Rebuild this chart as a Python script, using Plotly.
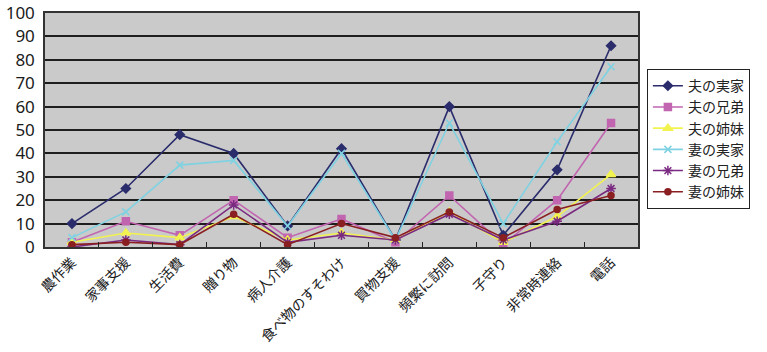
import plotly.graph_objects as go

categories = ["農作業", "家事支援", "生活費", "贈り物", "病人介護", "食べ物のすそわけ",
              "買物支援", "頻繁に訪問", "子守り", "非常時連絡", "電話"]

husband_parents = [10, 25, 48, 40, 9, 42, 3, 60, 5, 33, 86]
husband_brothers = [2, 11, 5, 20, 4, 12, 2, 22, 1, 20, 53]
husband_sisters = [2, 6, 4, 13, 3, 6, 3, 15, 2, 13, 31]
wife_parents = [4, 15, 35, 37, 9, 40, 3, 53, 10, 45, 77]
wife_brothers = [0, 3, 1, 18, 2, 5, 3, 14, 3, 11, 25]
wife_sisters = [1, 2, 1, 14, 1, 10, 4, 15, 4, 16, 22]

y_ticks = list(range(0, 101, 10))

series = [
    ("夫の実家", husband_parents, "#2a2c6c", "diamond", 7),
    ("夫の兄弟", husband_brothers, "#c265b0", "square", 7),
    ("夫の姉妹", husband_sisters, "#f2f250", "triangle-up", 8),
    ("妻の実家", wife_parents, "#7fd2e2", "x-thin-open", 7),
    ("妻の兄弟", wife_brothers, "#7a2a80", "asterisk-open", 8),
    ("妻の姉妹", wife_sisters, "#8a1f22", "circle", 6),
]

fig = go.Figure()
for name, vals, color, symbol, size in series:
    fig.add_trace(go.Scatter(
        x=categories, y=vals, name=name, mode="lines+markers",
        line=dict(color=color, width=1.6),
        marker=dict(symbol=symbol, size=size, color=color,
                    line=dict(color=color, width=1.5)),
    ))

font_family = "Noto Sans CJK JP, Noto Sans, sans-serif"

fig.update_layout(
    width=767, height=352,
    margin=dict(l=45, r=129, t=13, b=105),
    paper_bgcolor="white",
    plot_bgcolor="#cacaca",
    font=dict(family=font_family, color="#222222"),
    showlegend=True,
    legend=dict(
        x=1.015, y=0.76, xanchor="left", yanchor="top",
        bgcolor="white", bordercolor="#222222", borderwidth=1,
        font=dict(size=14, color="#222222", family=font_family),
        tracegroupgap=0, itemwidth=30,
    ),
)

fig.update_xaxes(
    type="category",
    automargin=False,
    tickangle=-45,
    tickfont=dict(size=14, color="#1a1a1a"),
    showgrid=False,
    ticks="inside", tickson="boundaries", ticklen=5, tickcolor="#222222",
    showline=True, linecolor="#333333", linewidth=1.5, mirror=True,
    range=[-0.5, len(categories) - 0.5],
)

fig.update_yaxes(
    automargin=False,
    range=[0, 100],
    tickvals=y_ticks,
    tickfont=dict(size=17, color="#1a1a1a", family="Noto Sans, sans-serif"),
    ticklabeloverflow="allow",
    showgrid=True, gridcolor="#1e1e1e", gridwidth=1.5,
    showline=True, linecolor="#333333", linewidth=1.5, mirror=True,
    zeroline=False,
    ticks="", ticklabelstandoff=5,
)

fig.write_html("out.html")
